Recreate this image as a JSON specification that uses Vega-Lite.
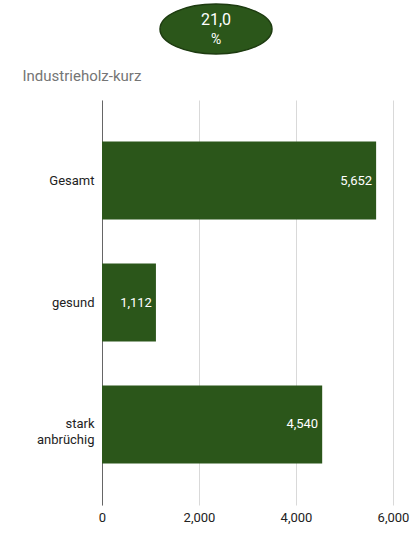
{
  "$schema": "https://vega.github.io/schema/vega-lite/v6.json",
  "padding": {"top": 1, "left": 22, "right": 5, "bottom": 5},
  "background": "white",
  "config": {"font": "Roboto", "view": {"stroke": null}},
  "spacing": 12,
  "datasets": {
    "badge": [{"value": "21,0", "unit": "%"}],
    "bars": [
      {"kategorie": "Gesamt", "volumen": 5652},
      {"kategorie": "gesund", "volumen": 1112},
      {"kategorie": "stark anbrüchig", "volumen": 4540}
    ]
  },
  "vconcat": [
    {
      "width": 228,
      "height": 50,
      "data": {"name": "badge"},
      "layer": [
        {
          "mark": {"type": "point", "shape": "M -1 0 A 1 0.446 0 1 0 1 0 A 1 0.446 0 1 0 -1 0 Z", "size": 12544, "filled": true, "fill": "#2b561a", "stroke": "#1d3b10", "strokeWidth": 1.5, "opacity": 1},
          "encoding": {}
        },
        {
          "mark": {"type": "text", "color": "white", "fontSize": 16, "dy": -9},
          "encoding": {"text": {"field": "value"}}
        },
        {
          "mark": {"type": "text", "color": "white", "fontSize": 14, "dy": 11},
          "encoding": {"text": {"field": "unit"}}
        }
      ]
    },
    {
      "width": 291,
      "height": 405,
      "data": {"name": "bars"},
      "title": {"text": "Industrieholz-kurz", "anchor": "start", "frame": "bounds", "color": "#757575", "fontSize": 15, "fontWeight": "normal", "offset": 16, "dx": -14},
      "encoding": {
        "y": {"field": "kategorie", "type": "nominal", "sort": null, "title": null,
          "scale": {"paddingInner": 0.36, "paddingOuter": 0.34},
          "axis": {"labelExpr": "split(datum.label, ' ')", "labelFontSize": 13, "labelColor": "#222222", "ticks": false, "domain": true, "domainColor": "#666666", "labelPadding": 8, "labelLineHeight": 16}},
        "x": {"field": "volumen", "type": "quantitative", "title": null,
          "scale": {"domain": [0, 6000]},
          "axis": {"values": [0, 2000, 4000, 6000], "labelExpr": "format(datum.value, ',')", "labelFlush": false, "labelFontSize": 13, "labelColor": "#222222", "domain": false, "ticks": false, "gridColor": "#d9d9d9", "labelPadding": 6}}
      },
      "layer": [
        {"mark": {"type": "bar", "color": "#2b561a"}},
        {"mark": {"type": "text", "align": "right", "dx": -4, "color": "white", "fontSize": 13},
         "encoding": {"text": {"field": "volumen", "type": "quantitative", "format": ","}}}
      ]
    }
  ]
}
